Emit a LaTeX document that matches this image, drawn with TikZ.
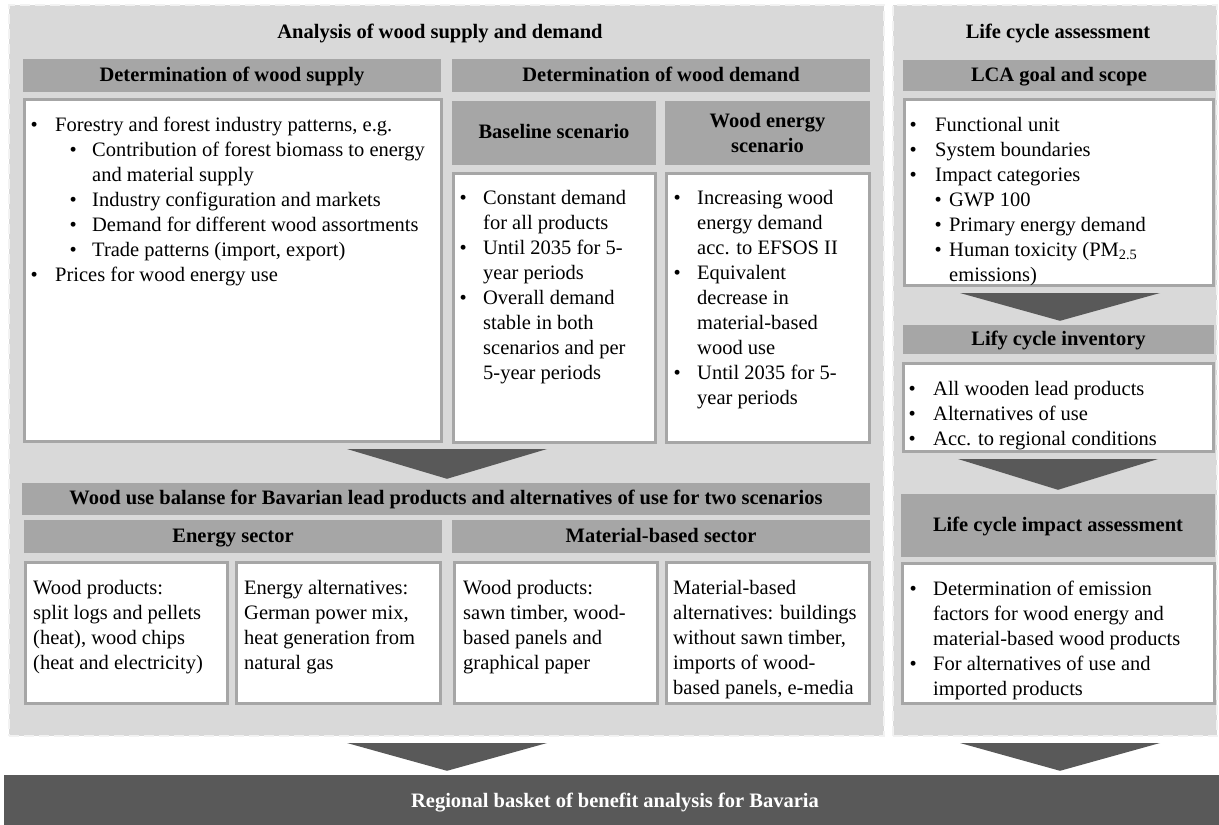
\documentclass[tikz,border=0pt]{standalone}
\usepackage{fontspec}
\setmainfont{Liberation Serif}
\usetikzlibrary{calc}

\definecolor{panelgray}{HTML}{D9D9D9}
\definecolor{headgray}{HTML}{A6A6A6}
\definecolor{arrowgray}{HTML}{595959}
\definecolor{edgegray}{HTML}{F2F2F2}

\newcommand\sz{\fontsize{20.5}{25}\selectfont}
\newcommand\itm[1][24pt]{\makebox[#1][l]{\textbullet}}
\newcommand\ind[1][24pt]{\hspace*{#1}}

\begin{document}
\begin{tikzpicture}[x=1pt,y=-1pt,
        panel/.style={fill=panelgray,draw=edgegray,line width=2pt,dash pattern=on 10pt off 5pt,inner sep=0pt},
        twohead/.style={fill=headgray,font=\sz\bfseries,inner sep=0pt,align=center},
        head/.style={twohead,text height=14pt,text depth=3pt},
        txtbox/.style={fill=white,draw=headgray,line width=3pt,inner sep=0pt},
        txt/.style={anchor=north west,inner sep=0pt,align=left,font=\sz},
        ttl/.style={font=\sz\bfseries,inner sep=0pt,text height=14pt,text depth=3pt}]

      \useasboundingbox (0,0) rectangle (1219,825);

      %%%% Background panels %%%%
      \node[panel,minimum width=875,minimum height=731] (leftPanel) at (446.5,370.5) {};
      \node[panel,minimum width=324,minimum height=731] (rightPanel) at (1055,370.5) {};
      \node[ttl] (anaTtl) at (440,33) {Analysis of wood supply and demand};
      \node[ttl] (lcaTtl) at (1058,33) {Life cycle assessment};

      %%%% Supply and demand %%%%
      \node[head,minimum width=418,minimum height=33] (supHead) at (232,75.5) {Determination of wood supply};
      \node[head,minimum width=418,minimum height=33] (demHead) at (661,75.5) {Determination of wood demand};
      \node[head,minimum width=204,minimum height=64] (baseHead) at (554,133) {Baseline scenario};
      \node[twohead,minimum width=205,minimum height=64] (enHead) at (767.5,133) {Wood energy\\scenario};

      \node[txtbox,minimum width=417,minimum height=342] (supBox) at (233,270.5) {};
      \node[txtbox,minimum width=202,minimum height=269] (baseBox) at (554.5,308) {};
      \node[txtbox,minimum width=203,minimum height=269] (enBox) at (768,308) {};

      \node[txt] (supTxt) at (30.5,117) {%
        \itm[24.5pt]Forestry and forest industry patterns, e.g.\\
        \ind[39pt]\itm[22.5pt]Contribution of forest biomass to energy\\
        \ind[61.5pt]and material supply\\
        \ind[39pt]\itm[22.5pt]Industry configuration and markets\\
        \ind[39pt]\itm[22.5pt]Demand for different wood assortments\\
        \ind[39pt]\itm[22.5pt]Trade patterns (import, export)\\
        \itm[24.5pt]Prices for wood energy use};
      \node[txt] (baseTxt) at (459.5,190) {%
        \itm[23.5pt]Constant demand\\
        \ind[23.5pt]for all products\\
        \itm[23.5pt]Until 2035 for 5-\\
        \ind[23.5pt]year periods\\
        \itm[23.5pt]Overall demand\\
        \ind[23.5pt]stable in both\\
        \ind[23.5pt]scenarios and per\\
        \ind[23.5pt]5-year periods};
      \node[txt] (enTxt) at (673.5,190) {%
        \itm[23.5pt]Increasing wood\\
        \ind[23.5pt]energy demand\\
        \ind[23.5pt]acc. to EFSOS II\\
        \itm[23.5pt]Equivalent\\
        \ind[23.5pt]decrease in\\
        \ind[23.5pt]material-based\\
        \ind[23.5pt]wood use\\
        \itm[23.5pt]Until 2035 for 5-\\
        \ind[23.5pt]year periods};

      %%%% Wood use balance %%%%
      \node[head,minimum width=848,minimum height=32] (balHead) at (446,499) {Wood use balanse for Bavarian lead products and alternatives of use for two scenarios};
      \node[head,minimum width=418,minimum height=33] (enSecHead) at (233,536.5) {Energy sector};
      \node[head,minimum width=418,minimum height=33] (matSecHead) at (661,536.5) {Material-based sector};

      \node[txtbox,minimum width=202,minimum height=141] (wpEnBox) at (126.5,633) {};
      \node[txtbox,minimum width=204,minimum height=141] (altEnBox) at (338.5,633) {};
      \node[txtbox,minimum width=203,minimum height=141] (wpMatBox) at (556,633) {};
      \node[txtbox,minimum width=203,minimum height=141] (altMatBox) at (768,633) {};

      \node[txt] (wpEnTxt) at (33,580) {Wood products:\\split logs and pellets\\(heat), wood chips\\(heat and electricity)};
      \node[txt] (altEnTxt) at (244,580) {Energy alternatives:\\German power mix,\\heat generation from\\natural gas};
      \node[txt] (wpMatTxt) at (463,580) {Wood products:\\sawn timber, wood-\\based panels and\\graphical paper};
      \node[txt] (altMatTxt) at (673,580) {Material-based\\alternatives: buildings\\without sawn timber,\\imports of wood-\\based panels, e-media};

      %%%% Life cycle assessment %%%%
      \node[head,minimum width=312,minimum height=31] (lcaHead) at (1059,75.5) {LCA goal and scope};
      \node[txtbox,minimum width=309,minimum height=186] (lcaBox) at (1059,192.5) {};
      \node[txt] (lcaTxt) at (909.5,117) {%
        \itm[25.5pt]Functional unit\\
        \itm[25.5pt]System boundaries\\
        \itm[25.5pt]Impact categories\\
        \ind[25pt]\itm[14.5pt]GWP 100\\
        \ind[25pt]\itm[14.5pt]Primary energy demand\\
        \ind[25pt]\itm[14.5pt]Human toxicity (PM\textsubscript{2.5}\\
        \ind[39.5pt]emissions)};

      \node[head,minimum width=311,minimum height=29] (invHead) at (1058.5,339.5) {Lify cycle inventory};
      \node[txtbox,minimum width=310,minimum height=88] (invBox) at (1058.5,407.5) {};
      \node[txt] (invTxt) at (908.5,381) {%
        \itm[24.5pt]All wooden lead products\\
        \itm[24.5pt]Alternatives of use\\
        \itm[24.5pt]Acc. to regional conditions};

      \node[head,minimum width=314,minimum height=63] (impHead) at (1058,525.5) {Life cycle impact assessment};
      \node[txtbox,minimum width=312,minimum height=140] (impBox) at (1058.5,633.5) {};
      \node[txt] (impTxt) at (909.5,581) {%
        \itm[23.5pt]Determination of emission\\
        \ind[23.5pt]factors for wood energy and\\
        \ind[23.5pt]material-based wood products\\
        \itm[23.5pt]For alternatives of use and\\
        \ind[23.5pt]imported products};

      %%%% Result bar %%%%
      \node[fill=arrowgray,minimum width=1215,minimum height=50,inner sep=0pt] (goal) at (611.5,800) {};
      \node[text=white,font=\sz\bfseries,inner sep=0pt,text height=14pt,text depth=3pt] (goalTxt) at (615,802) {Regional basket of benefit analysis for Bavaria};

      %% Block arrows between the parts
      \foreach \a/\b/\cx in {supBox/balHead/447,leftPanel/goal/447,lcaBox/invHead/1060,invBox/impHead/1058,rightPanel/goal/1060}{
        \fill[arrowgray] let \p1=(\a.south), \p2=(\b.north) in
          (\cx-100,\y1-6pt) -- (\cx+100,\y1-6pt) -- (\cx,\y2+4pt) -- cycle;
      }

    \end{tikzpicture}
\end{document}
